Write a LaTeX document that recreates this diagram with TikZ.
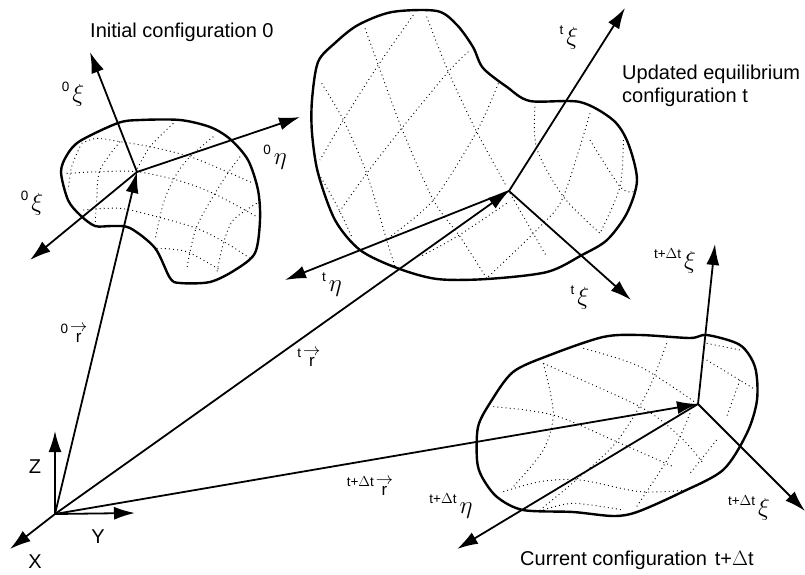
\documentclass[tikz,border=0pt]{standalone}
\usepackage{amsmath,amssymb}
\usepackage{fontspec}
\setmainfont{Liberation Sans}
\usetikzlibrary{arrows.meta}
\newcommand{\prelabel}[2]{\raisebox{10pt}{\fontsize{13.5}{14}\selectfont #1}\kern3pt{\fontsize{25}{26}\selectfont$#2$}}
\newcommand{\prevec}[1]{\raisebox{9pt}{\fontsize{13.5}{14}\selectfont #1}\kern2pt{\fontsize{17}{18}\selectfont\shortstack[c]{$\rightarrow$\\[-1pt]r}}}
\tikzset{
  blob/.style={line width=2.4pt,black,line join=round},
  meshline/.style={black,line width=.95pt,dash pattern=on .9pt off 3.2pt},
  vecline/.style={-{Latex[length=21pt,width=13pt]},line width=1.8pt},
  txt/.style={font=\fontsize{20}{23}\selectfont,align=left,inner sep=0pt},
  axlbl/.style={font=\fontsize{20}{21}\selectfont,inner sep=0pt},
  greek/.style={inner sep=0pt}
}
\begin{document}
\begin{tikzpicture}[>=Latex,x=1pt,y=-1pt]
  \useasboundingbox (0,0) rectangle (805,574);
  % origin and body reference points
  \coordinate (O) at (55,514);
  \coordinate (c0) at (137,172);
  \coordinate (ct) at (509,191);
  \coordinate (cd) at (698,404);
  % tips of the local axes
  \coordinate (xi0a) at (90,52);
  \coordinate (eta0) at (300,117);
  \coordinate (xi0b) at (30,260);
  \coordinate (xita) at (625,8);
  \coordinate (etat) at (285,280);
  \coordinate (xitb) at (631,300);
  \coordinate (xida) at (715,244);
  \coordinate (etad) at (457,549);
  \coordinate (xidb) at (805,511);
  \coordinate (Z) at (55,431);
  \coordinate (Y) at (135,513);
  \coordinate (X) at (10,549);
  % body outlines
  \draw[blob] plot[smooth cycle,tension=.5] coordinates {(61,172) (67,155) (80,141) (118,123) (140,120) (180,120) (210,127) (230,139) (248,160) (258,190) (260,220) (255,253) (235,270) (210,282) (180,283) (170,278) (155,248) (130,228) (112,226) (95,226) (80,215) (68,200)};
  \draw[blob] plot[smooth cycle,tension=.5] coordinates {(312,100) (318,62) (335,43) (358,25) (392,12) (437,11) (457,25) (473,47) (483,68) (507,87) (530,101) (580,102) (613,120) (628,143) (637,180) (627,213) (607,240) (582,255) (547,272) (487,279) (437,279) (397,268) (360,250) (335,220) (318,173) (312,133)};
  \draw[blob] plot[smooth cycle,tension=.5] coordinates {(477,460) (478,427) (490,403) (513,372) (550,355) (603,337) (640,335) (690,338) (707,335) (740,345) (755,367) (757,400) (747,433) (723,470) (680,493) (637,512) (613,516) (573,512) (523,510) (497,497) (482,477)};
  % mesh of the initial body
  \begin{scope}[scale=1/3]
    \draw[meshline] plot[smooth] coordinates {(200,520) (300,515) (410,515) (530,540) (640,580) (770,650)};
    \draw[meshline] plot[smooth] coordinates {(245,430) (290,415) (360,425) (450,440) (570,470) (680,515) (760,550)};
    \draw[meshline] plot[smooth] coordinates {(250,630) (360,625) (470,650) (590,685) (680,730) (750,775)};
    \draw[meshline] plot[smooth] coordinates {(470,745) (560,755) (660,810)};
    \draw[meshline] plot[smooth] coordinates {(240,440) (215,500) (205,570)};
    \draw[meshline] plot[smooth] coordinates {(360,425) (300,510) (290,600) (285,680)};
    \draw[meshline] plot[smooth] coordinates {(520,370) (450,440) (410,510)};
    \draw[meshline] plot[smooth] coordinates {(640,410) (570,470) (525,530) (490,610) (465,720)};
    \draw[meshline] plot[smooth] coordinates {(720,470) (670,540) (590,680) (560,810)};
    \draw[meshline] plot[smooth] coordinates {(770,610) (700,660) (670,730) (650,820)};
  \end{scope}
  % mesh of the updated body
  \begin{scope}[shift={(280,0)},scale=1/3]
    \draw[meshline] plot[smooth] coordinates {(255,85) (295,195) (365,385) (460,600) (540,710) (620,835)};
    \draw[meshline] plot[smooth] coordinates {(440,50) (505,215) (590,395) (680,560)};
    \draw[meshline] plot[smooth] coordinates {(125,250) (190,360) (260,520) (320,720) (345,800)};
    \draw[meshline] plot[smooth] coordinates {(110,510) (175,625) (215,710)};
    \draw[meshline] plot[smooth] coordinates {(400,45) (295,195) (190,360) (120,480)};
    \draw[meshline] plot[smooth] coordinates {(565,155) (505,215) (365,385) (260,520) (175,640)};
    \draw[meshline] plot[smooth] coordinates {(655,250) (590,395) (460,600) (330,710)};
    \draw[meshline] plot[smooth] coordinates {(765,320) (770,445) (850,590) (960,700)};
    \draw[meshline] plot[smooth] coordinates {(930,340) (850,590) (780,680) (620,835)};
    \draw[meshline] plot[smooth] coordinates {(1030,420) (1020,560) (960,700)};
    \draw[meshline] plot[smooth] coordinates {(690,580) (800,770)};
    \draw[meshline] plot[smooth] coordinates {(930,420) (1020,560) (1060,575)};
    \draw[meshline] plot[smooth] coordinates {(680,610) (530,710) (420,770)};
  \end{scope}
  % mesh of the current body
  \begin{scope}[shift={(440,300)},scale=1/3]
    \draw[meshline] plot[smooth] coordinates {(310,190) (340,340) (310,450) (220,560)};
    \draw[meshline] plot[smooth] coordinates {(160,320) (340,345) (530,425) (700,500)};
    \draw[meshline] plot[smooth] coordinates {(430,145) (600,200) (770,310)};
    \draw[meshline] plot[smooth] coordinates {(310,190) (600,320) (720,410) (790,490)};
    \draw[meshline] plot[smooth] coordinates {(680,130) (620,280) (530,425) (420,530) (300,630)};
    \draw[meshline] plot[smooth] coordinates {(800,180) (940,265)};
    \draw[meshline] plot[smooth] coordinates {(800,130) (900,150)};
    \draw[meshline] plot[smooth] coordinates {(900,240) (860,350)};
    \draw[meshline] plot[smooth] coordinates {(750,340) (700,450) (590,620)};
    \draw[meshline] plot[smooth] coordinates {(830,420) (750,520)};
    \draw[meshline] plot[smooth] coordinates {(190,575) (300,545) (420,540) (600,575) (740,570)};
    \draw[meshline] plot[smooth] coordinates {(310,630) (400,610) (550,630)};
  \end{scope}
  % position vectors
  \draw[vecline] (O)--(c0);
  \draw[vecline] (O)--(ct);
  \draw[vecline] (O)--(cd);
  % local axes
  \draw[vecline] (c0)--(xi0a);
  \draw[vecline] (c0)--(eta0);
  \draw[vecline] (c0)--(xi0b);
  \draw[vecline] (ct)--(xita);
  \draw[vecline] (ct)--(etat);
  \draw[vecline] (ct)--(xitb);
  \draw[vecline] (cd)--(xida);
  \draw[vecline] (cd)--(etad);
  \draw[vecline] (cd)--(xidb);
  % global axes
  \draw[vecline] (O)--(Z);
  \draw[vecline] (O)--(Y);
  \draw[vecline] (O)--(X);
  % labels
  \node[txt,anchor=west] (lab0) at (90,32) {Initial configuration 0};
  \node[txt,anchor=west] (labt) at (622,86) {Updated equilibrium\\configuration t};
  \node[txt,anchor=west] (labd) at (520,560) {Current configuration\hspace{8pt}t+$\Delta$t};
  \node[axlbl] (labZ) at (35,467) {Z};
  \node[axlbl] (labY) at (98,537) {Y};
  \node[axlbl] (labX) at (35,562) {X};
  \node[greek] (l0a) at (73,94) {\prelabel{0}{\xi}};
  \node[greek] (l0e) at (275,157) {\prelabel{0}{\eta}};
  \node[greek] (l0b) at (32,203) {\prelabel{0}{\xi}};
  \node[greek] (lta) at (569,38) {\prelabel{t}{\xi}};
  \node[greek] (lte) at (332,285) {\prelabel{t}{\eta}};
  \node[greek] (ltb) at (580,298) {\prelabel{t}{\xi}};
  \node[greek] (lda) at (675,261) {\prelabel{t+$\Delta$t}{\xi}};
  \node[greek] (lde) at (451,506) {\prelabel{t+$\Delta$t}{\eta}};
  \node[greek] (ldb) at (749,508) {\prelabel{t+$\Delta$t}{\xi}};
  \node[greek] (r0) at (74,333) {\prevec{0}};
  \node[greek] (rt) at (309,358) {\prevec{t}};
  \node[greek] (rd) at (370,486) {\prevec{t+$\Delta$t}};
\end{tikzpicture}
\end{document}
